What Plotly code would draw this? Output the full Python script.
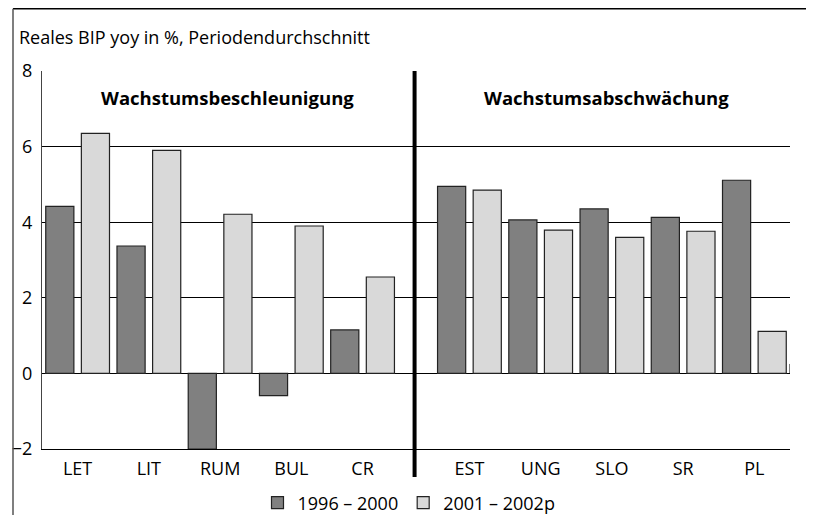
import plotly.graph_objects as go

# ---- data ----
categories_left = ["LET", "LIT", "RUM", "BUL", "CR"]
categories_right = ["EST", "UNG", "SLO", "SR", "PL"]
series1_name = "1996 – 2000"
series2_name = "2001 – 2002p"
series1_left = [4.42, 3.37, -2.0, -0.59, 1.15]
series2_left = [6.35, 5.90, 4.21, 3.90, 2.55]
series1_right = [4.95, 4.06, 4.35, 4.13, 5.11]
series2_right = [4.85, 3.79, 3.60, 3.76, 1.11]
y_ticks = [-2, 0, 2, 4, 6, 8]
title_text = "Reales BIP yoy in %, Periodendurchschnitt"
group_left_title = "Wachstumsbeschleunigung"
group_right_title = "Wachstumsabschwächung"

# ---- layout helpers ----
categories = categories_left + categories_right
right_offset = 5.5
xpos = list(range(len(categories_left))) + [right_offset + i for i in range(len(categories_right))]
s1 = series1_left + series1_right
s2 = series2_left + series2_right
divider_x = 4.73
x_range = [-0.5, 10.0]

FONT = "Open Sans"
DARK = "#808080"
LIGHT = "#d9d9d9"
EDGE = "#222222"

fig = go.Figure()
fig.add_trace(go.Bar(x=xpos, y=s1, name=series1_name,
                     marker=dict(color=DARK, line=dict(color=EDGE, width=1.2))))
fig.add_trace(go.Bar(x=xpos, y=s2, name=series2_name,
                     marker=dict(color=LIGHT, line=dict(color=EDGE, width=1.2))))

# page adds an 8px body margin; figure is sized to fit the window
W, H = 806, 507
ml, mr, mt, mb = 34, 24, 63, 66
pw, ph = W - ml - mr, H - mt - mb

def px_x(p):
    return (p - ml) / pw

def px_y(p):
    return (H - mb - p) / ph

shapes = [
    # thick divider
    dict(type="line", xref="x", yref="paper", x0=divider_x, x1=divider_x,
         y0=px_y(469), y1=1.0, line=dict(color="black", width=4)),
    # small end tick on zero line
    dict(type="line", xref="x", yref="y", x0=x_range[1], x1=x_range[1],
         y0=0, y1=0.25, line=dict(color="black", width=1)),
    # figure frame (top and left)
    dict(type="line", xref="paper", yref="paper", x0=px_x(5), x1=px_x(W),
         y0=px_y(0.8), y1=px_y(0.8), line=dict(color="black", width=1.5)),
    dict(type="line", xref="paper", yref="paper", x0=px_x(5), x1=px_x(5),
         y0=px_y(0.8), y1=px_y(H), line=dict(color="#555555", width=1.5)),
]

annotations = [
    dict(text=f"<b>{group_left_title}</b>", x=2.1, y=7.31, xref="x", yref="y",
         showarrow=False, font=dict(family=FONT, size=18.5, color="black")),
    dict(text=f"<b>{group_right_title}</b>", x=7.43, y=7.31, xref="x", yref="y",
         showarrow=False, font=dict(family=FONT, size=18.5, color="black")),
]

fig.update_layout(
    template="none",
    width=W, height=H,
    margin=dict(l=ml, r=mr, t=mt, b=mb, pad=0, autoexpand=False),
    paper_bgcolor="white", plot_bgcolor="white",
    font=dict(family=FONT, size=18, color="black"),
    title=dict(text=title_text, x=11 / W, xref="container", xanchor="left",
               y=1 - 30 / H, yref="container", yanchor="middle",
               font=dict(family=FONT, size=18, color="black")),
    barmode="group", bargap=0.0, bargroupgap=0.21,
    showlegend=True,
    legend=dict(orientation="h", x=401 / W, xref="container", xanchor="center",
                y=1 - 495 / H, yref="container", yanchor="middle",
                font=dict(family=FONT, size=18, color="black"), bgcolor="rgba(0,0,0,0)"),
    shapes=shapes, annotations=annotations,
)
fig.update_xaxes(range=x_range, tickvals=xpos, ticktext=categories, automargin=False,
                 showgrid=False, zeroline=False, showline=True, linecolor="black",
                 linewidth=1, ticks="", ticklabelstandoff=3,
                 tickfont=dict(family=FONT, size=18, color="black"))
fig.update_yaxes(range=[-2, 8], tickvals=y_ticks, showgrid=True, gridcolor="black",
                 gridwidth=1, zeroline=True, zerolinecolor="black", zerolinewidth=1,
                 automargin=False,
                 showline=True, linecolor="#444444", linewidth=1,
                 ticks="outside", ticklen=5, tickcolor="rgba(0,0,0,0)",
                 tickfont=dict(family=FONT, size=18, color="black"))

fig.write_html("out.html")
